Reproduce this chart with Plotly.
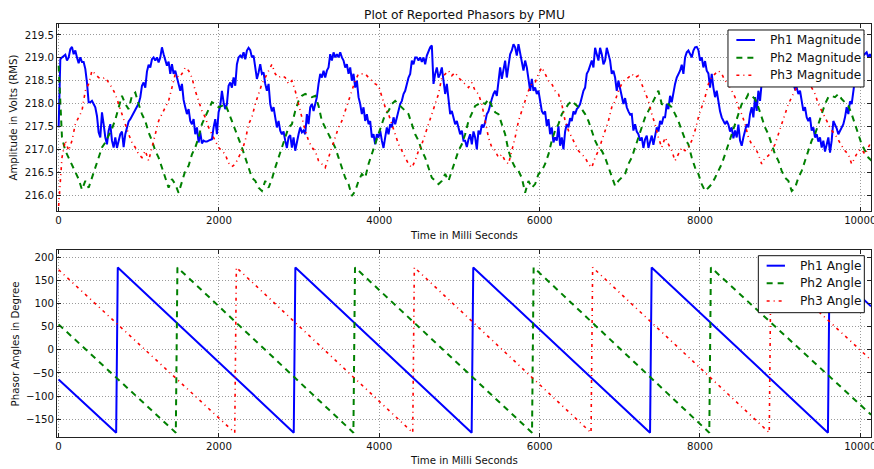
import plotly.graph_objects as go

# ---------------- data ----------------
MAG_STEP_MS = 20.78      # sampling step of the Ph1 magnitude readings
PH23_STEP_MS = 41.56     # sampling step of the Ph2 / Ph3 magnitude readings
T_START_MS = 0.6

ph1_magnitude = [
    217.48, 218.97, 219.01, 219.05, 219.07, 218.94, 219.01, 219.19, 219.24, 219.08,
    219.16, 219.01, 218.88, 219.01, 218.91, 218.91, 218.76, 218.46, 218.03, 218.03,
    218.06, 217.99, 217.92, 217.73, 217.37, 217.26, 217.81, 217.55, 217.26, 217.11,
    217.41, 217.55, 217.19, 217.04, 217.26, 217.03, 217.19, 217.33, 217.39, 217.05,
    217.33, 217.48, 217.61, 217.66, 217.73, 217.78, 217.88, 217.95, 218.00, 218.14,
    218.39, 218.46, 218.35, 218.70, 218.85, 218.79, 218.97, 219.01, 218.94, 219.01,
    218.90, 219.01, 219.23, 219.08, 218.94, 218.83, 218.92, 218.65, 218.86, 218.65,
    218.72, 218.57, 218.43, 218.28, 218.43, 218.08, 217.92, 217.77, 217.88, 217.62,
    217.55, 217.66, 217.33, 217.48, 217.15, 217.37, 217.13, 217.19, 217.17, 217.17,
    217.19, 217.20, 217.22, 217.48, 217.66, 217.33, 217.81, 217.95, 218.28, 218.03,
    217.88, 217.99, 218.39, 218.46, 218.35, 218.57, 218.39, 218.86, 219.01, 219.05,
    219.01, 219.12, 218.97, 219.16, 219.22, 219.17, 219.01, 219.05, 218.83, 218.54,
    218.68,
    218.86, 218.65, 218.68, 218.43, 218.28, 218.43, 217.99, 217.83, 217.92, 217.70,
    217.48, 217.62, 217.41, 217.33, 217.39, 217.19, 217.03, 217.26, 217.31, 217.04,
    217.26, 216.97, 217.19, 217.33, 217.48, 217.37, 217.41, 217.33, 217.77, 217.55,
    217.92, 217.99, 217.84, 217.99, 218.14, 218.43, 218.65, 218.57, 218.72, 218.57,
    218.72, 218.79, 219.08, 218.94, 219.12, 219.01, 219.08, 219.01, 219.12, 219.01,
    218.94, 218.79, 218.86, 218.65, 218.79, 218.50, 218.65, 218.35, 218.50, 218.14,
    217.99, 217.77, 217.92, 217.62, 217.77, 217.55, 217.62, 217.26, 217.33, 217.11,
    217.33, 217.26, 217.41, 217.19, 217.03, 217.26, 217.48, 217.33, 217.55, 217.48,
    217.70, 217.55, 217.70, 217.84, 217.99, 218.06, 218.21, 218.28, 218.43, 218.57,
    218.65, 218.94, 218.86, 219.01, 219.01, 218.94, 219.01, 218.91, 219.01, 218.86,
    219.05, 219.16, 219.23, 219.27, 218.43, 218.65, 218.79, 218.57, 218.65, 218.79,
    218.50, 218.21, 218.43, 218.14, 217.77, 217.84, 217.70, 217.55, 217.62, 217.48,
    217.33, 217.41, 217.19,
    217.19, 217.05, 217.22, 217.33, 217.11, 217.39, 217.26, 217.00, 217.41, 217.33,
    217.54, 217.48, 217.59, 217.77, 217.83, 217.99, 218.10, 218.21, 218.28, 218.17,
    218.50, 218.79, 218.54, 218.79, 218.94, 218.57, 218.79, 219.08, 219.16, 219.30,
    219.23, 219.05, 219.30, 219.08, 218.86, 218.72, 218.94, 218.79, 218.54, 218.28,
    218.54, 218.28, 218.35, 218.21, 218.28, 218.06, 217.84, 217.77, 217.83, 217.51,
    217.66, 217.33, 217.48, 217.15, 217.26, 217.19, 217.51, 217.08, 217.26, 217.00,
    217.39, 217.55, 217.48, 217.68, 217.62, 217.83, 217.77, 217.88, 217.92, 217.99,
    218.14, 218.28, 218.35, 218.65, 218.72, 218.86, 218.94, 218.79, 219.22, 219.08,
    218.94, 219.22, 219.08, 218.86, 218.94, 219.22, 219.08, 218.94, 218.65, 218.72,
    218.57, 218.28, 218.50, 218.35, 218.21, 217.99, 218.12, 217.92, 217.83, 217.76,
    217.77, 217.41, 217.55, 217.39, 217.33, 217.19, 217.26, 217.03, 217.22, 217.30,
    217.03, 217.19, 217.30, 217.10, 217.33, 217.48, 217.39, 217.62, 217.55, 217.70,
    217.70, 217.99, 217.88, 218.17, 218.03, 218.28, 218.43, 218.57, 218.65, 218.72,
    218.85, 218.65, 219.01, 219.12, 219.16, 219.07, 219.01, 219.16, 219.23, 219.24,
    219.17, 218.94, 219.01, 218.79, 218.93, 218.72, 218.66, 218.35, 218.65, 218.35,
    218.14, 218.28, 217.99, 217.83, 217.70, 217.62, 217.55, 217.62, 217.54, 217.39,
    217.48, 217.24, 217.41, 217.26, 217.54, 217.19, 217.08, 217.26, 217.41, 217.55,
    217.48, 217.77, 217.92, 217.70, 218.14, 217.84, 218.28, 218.06, 218.46, 218.57,
    218.72, 218.79, 218.94, 219.01, 219.05, 219.12, 219.16, 219.08, 219.19, 219.12,
    219.01, 219.05, 218.86, 218.79, 218.65, 218.68, 218.50, 218.43, 218.32, 218.35,
    218.21, 218.28, 218.05, 217.84, 217.92, 217.70, 217.62, 217.70, 217.41, 217.48,
    217.26, 217.33, 217.17, 217.26, 217.04, 217.19, 216.95, 217.15, 217.26, 216.93,
    217.19, 217.62, 217.55, 217.46, 217.33, 217.41, 217.48, 217.55, 217.70, 217.92,
    217.77, 218.05, 217.99, 218.28, 218.54, 218.72, 218.83, 218.94, 219.01, 219.05,
    219.08, 219.12, 219.01, 219.08, 219.01,
]

ph2_magnitude = [
    218.83, 217.26, 216.97, 216.82, 216.68, 216.53, 216.35, 216.12, 216.31, 216.16,
    216.38, 216.60, 216.82, 217.04, 217.15, 217.30, 217.45, 217.65, 217.90, 218.17,
    217.99, 217.88, 218.17, 218.24, 217.99, 217.77, 217.62, 217.37, 217.19, 216.97,
    216.82, 216.60, 216.38, 216.16, 216.35, 216.24, 216.05, 216.31, 216.53, 216.64,
    216.89, 217.04, 217.26, 217.55, 217.70, 217.88, 218.03, 217.99, 217.92, 217.95,
    217.99, 217.81, 217.62, 217.41, 217.26, 217.04, 216.82, 216.60, 216.38, 216.31,
    216.16,
    216.09, 216.31, 216.16, 216.35, 216.60, 216.82, 217.04, 217.26, 217.48, 217.55,
    217.84, 218.06, 218.17, 218.21, 218.17, 218.14, 218.17, 217.95, 217.62, 217.48,
    217.33, 217.19, 217.04, 216.82, 216.60, 216.38, 216.24, 215.98, 216.09, 216.31,
    216.46, 216.38, 216.68, 216.89, 217.11, 217.33, 217.55, 217.77, 217.84, 217.99,
    218.06, 217.99, 217.92, 217.84, 217.77, 217.55, 217.33, 217.19, 216.97, 216.82,
    216.60, 216.38, 216.31, 216.24, 216.31, 216.46, 216.31, 216.53, 216.75, 216.97,
    217.11, 217.33,
    217.62, 217.77, 217.95, 217.99, 218.03, 217.99, 218.10, 217.95, 217.81, 217.77,
    217.55, 217.33, 216.97, 216.75, 216.60, 216.53, 216.38, 216.05, 216.31, 216.16,
    216.24, 216.46, 216.53, 216.68, 216.89, 217.19, 217.41, 217.55, 217.77, 217.88,
    217.99, 218.06, 217.99, 217.92, 217.88, 217.77, 217.62, 217.41, 217.19, 217.04,
    216.97, 216.82, 216.60, 216.38, 216.20, 216.31, 216.38, 216.46, 216.68, 216.82,
    217.04, 217.26, 217.48, 217.70, 217.84, 217.99, 218.14, 218.28, 217.99,
    217.95, 217.99, 217.92, 217.77, 217.62, 217.41, 217.22, 217.11, 216.82, 216.60,
    216.46, 216.24, 216.09, 216.16, 216.24, 216.38, 216.53, 216.68, 216.89, 217.11,
    217.33, 217.55, 217.77, 217.99, 218.06, 218.21, 218.17, 218.10, 217.92, 217.70,
    217.48, 217.33, 217.11, 216.89, 216.75, 216.53, 216.38, 216.31, 216.09, 216.16,
    216.38, 216.53, 216.75, 216.97, 217.19, 217.33, 217.55, 217.77, 217.99, 218.14,
    218.17, 218.14, 218.21, 218.10, 218.03, 217.95, 217.77, 217.55, 217.33, 217.11,
    216.97, 216.82, 216.75,
]

ph3_magnitude = [
    215.76, 216.82, 217.19, 216.97, 217.19, 217.55, 217.70, 217.84, 218.28, 218.43,
    218.72, 218.65, 218.57, 218.54, 218.57, 218.46, 218.35, 218.21, 217.99, 217.73,
    217.55, 217.33, 217.15, 217.04, 216.89, 216.82, 216.97, 216.75, 217.04, 217.33,
    217.62, 217.77, 217.92, 218.06, 218.35, 218.65, 218.57, 218.65, 218.79, 218.72,
    218.57, 218.28, 218.06, 217.84, 217.70, 217.48, 217.33, 217.19, 217.04, 216.97,
    216.89, 216.70, 216.62, 216.68, 216.82, 216.97, 217.19, 217.55, 217.70, 217.99,
    218.21,
    218.43, 218.57, 218.72, 218.86, 218.65, 218.57, 218.61, 218.57, 218.43, 218.50,
    218.28, 217.99, 217.70, 217.41, 217.19, 217.04, 216.97, 216.75, 216.68, 216.60,
    216.82, 217.04, 217.26, 217.48, 217.62, 217.84, 218.06, 218.28, 218.50, 218.65,
    218.65, 218.65, 218.57, 218.50, 218.43, 218.39, 218.14, 217.92, 217.77, 217.55,
    217.33, 217.11, 216.97, 216.82, 216.68, 216.60, 216.75, 216.97, 217.11, 217.33,
    217.55, 217.77, 217.99, 218.21, 218.57, 218.65, 218.72, 218.61, 218.68, 218.57,
    218.50, 218.43,
    218.35, 218.46, 218.28, 218.21, 217.99, 217.62, 217.26, 217.04, 216.97, 216.82,
    216.89, 216.75, 216.68, 216.97, 217.26, 217.62, 217.84, 218.06, 218.28, 218.43,
    218.46, 218.65, 218.79, 218.65, 218.50, 218.43, 218.28, 218.21, 217.99, 217.62,
    217.41, 217.26, 217.11, 216.97, 216.89, 216.82, 216.68, 216.60, 216.82, 216.97,
    217.19, 217.41, 217.62, 217.92, 218.06, 218.28, 218.43, 218.54, 218.57, 218.65,
    218.57, 218.61, 218.43, 218.28, 218.06, 217.77, 217.55, 217.26, 217.04,
    217.26, 217.11, 216.97, 216.75, 216.89, 217.04, 216.97, 217.04, 217.19, 217.41,
    217.70, 217.92, 218.14, 218.43, 218.57, 218.65, 218.72, 218.65, 218.50, 218.43,
    218.28, 218.14, 217.92, 217.77, 217.55, 217.26, 217.11, 217.04, 216.89, 216.68,
    216.82, 216.86, 216.97, 217.11, 217.33, 217.55, 217.77, 217.99, 218.14, 218.28,
    218.43, 218.46, 218.50, 218.45, 218.35, 218.21, 217.99, 217.84, 217.70, 217.55,
    217.41, 217.33, 217.19, 217.08, 216.97, 216.89, 216.68, 216.82, 216.97, 217.00,
    216.89, 217.04, 217.19,
]

# phase angle breakpoints (degrees wrap from -180 to +180)
ph1_angle_t = [0, 718, 738, 2933, 2953, 5152, 5172, 7377, 7397, 9596, 9616, 10133]
ph1_angle = [-64, -179, 178, -179, 178, -179, 178, -179, 178, -179, 178, 94]
ph2_angle_t = [0, 1462, 1482, 3677, 3697, 5905, 5925, 8116, 8136, 10133]
ph2_angle = [55, -179, 178, -179, 178, -179, 178, -179, 178, -140]
ph3_angle_t = [0, 2197, 2217, 4417, 4437, 6641, 6661, 8864, 8884, 10133]
ph3_angle = [173, -179, 178, -179, 178, -179, 178, -179, 178, -22]

x_ticks = [0, 2000, 4000, 6000, 8000, 10000]
x_tick_labels = ["0", "2000", "4000", "6000", "8000", "10000"]
mag_ticks = [216.0, 216.5, 217.0, 217.5, 218.0, 218.5, 219.0, 219.5]
ang_ticks = [-150, -100, -50, 0, 50, 100, 150, 200]

mag_names = ["Ph1 Magnitude", "Ph2 Magnitude", "Ph3 Magnitude"]
ang_names = ["Ph1 Angle", "Ph2 Angle", "Ph3 Angle"]

t_ph1 = [T_START_MS + i * MAG_STEP_MS for i in range(len(ph1_magnitude))]
t_ph2 = [T_START_MS + i * PH23_STEP_MS for i in range(len(ph2_magnitude))]
t_ph3 = [T_START_MS + i * PH23_STEP_MS for i in range(len(ph3_magnitude))]

# ---------------- styling ----------------
FONT = "DejaVu Sans"
STYLES = [
    dict(color="#0000ff", width=2),
    dict(color="#008000", width=2, dash="6px,5px"),
    dict(color="#ff0000", width=1.6, dash="3px,4px,1px,4px"),
]

fig = go.Figure()
for name, t, v, st in zip(mag_names, [t_ph1, t_ph2, t_ph3],
                          [ph1_magnitude, ph2_magnitude, ph3_magnitude], STYLES):
    fig.add_trace(go.Scatter(x=t, y=v, mode="lines", name=name, line=st, showlegend=False))
for name, t, v, st in zip(ang_names, [ph1_angle_t, ph2_angle_t, ph3_angle_t],
                          [ph1_angle, ph2_angle, ph3_angle], STYLES):
    fig.add_trace(go.Scatter(x=t, y=v, mode="lines", name=name, line=st, showlegend=False,
                             xaxis="x2", yaxis="y2"))

axis_common = dict(
    automargin=False,
    showline=True, linecolor="#222222", linewidth=1, mirror="ticks",
    ticks="inside", ticklen=4, tickcolor="#222222",
    showgrid=True, gridcolor="#9a9a9a", gridwidth=0.8, griddash="1px,2px",
    zeroline=False, tickfont=dict(family=FONT, size=10.2, color="#111111"),
)

# legend boxes drawn in paper space (box, sample line, label)
def legend_items(box, rows, line_x, text_x, names):
    shapes = [dict(type="rect", xref="paper", yref="paper", x0=box[0], x1=box[1],
                   y0=box[2], y1=box[3], line=dict(color="#111111", width=1),
                   fillcolor="white", layer="above")]
    anns = []
    for y, name, st in zip(rows, names, STYLES):
        shapes.append(dict(type="line", xref="paper", yref="paper", x0=line_x[0], x1=line_x[1],
                           y0=y, y1=y, line=st, layer="above"))
        anns.append(dict(text=name, x=text_x, y=y, xref="paper", yref="paper", xanchor="left",
                         yanchor="middle", showarrow=False,
                         font=dict(family=FONT, size=12.2, color="#111111")))
    return shapes, anns

s1, a1 = legend_items((0.8243, 0.9914, 0.8475, 0.9855), (0.9613, 0.9184, 0.8758),
                      (0.8346, 0.8575), 0.8738, mag_names)
s2, a2 = legend_items((0.8616, 0.9918, 0.3010, 0.4390), (0.4148, 0.3722, 0.3293),
                      (0.8718, 0.8943), 0.9107, ang_names)

annotations = [
    dict(text="Plot of Reported Phasors by PMU", x=0.5, y=1.0218, xref="paper", yref="paper",
         xanchor="center", yanchor="middle", showarrow=False, font=dict(family=FONT, size=12.3)),
    dict(text="Time in Milli Seconds", x=0.5, y=0.489, xref="paper", yref="paper",
         xanchor="center", yanchor="middle", showarrow=False, font=dict(family=FONT, size=10.2)),
    dict(text="Time in Milli Seconds", x=0.5, y=-0.0557, xref="paper", yref="paper",
         xanchor="center", yanchor="middle", showarrow=False, font=dict(family=FONT, size=10.2)),
    dict(text="Amplitude in Volts (RMS)", x=-0.0528, y=0.7735, xref="paper", yref="paper",
         xanchor="center", yanchor="middle", textangle=-90, showarrow=False,
         font=dict(family=FONT, size=10.2)),
    dict(text="Phasor Angles in Degree", x=-0.0516, y=0.2265, xref="paper", yref="paper",
         xanchor="center", yanchor="middle", textangle=-90, showarrow=False,
         font=dict(family=FONT, size=10.2)),
] + a1 + a2

fig.update_layout(
    width=874, height=469,
    margin=dict(l=57, r=3, t=24, b=32, autoexpand=False),
    paper_bgcolor="white", plot_bgcolor="white",
    font=dict(family=FONT, color="#111111"),
    showlegend=False,
    xaxis=dict(domain=[0, 1], anchor="y", range=[-20, 10133], tickvals=x_ticks,
               ticktext=x_tick_labels, ticklabeloverflow="allow", **axis_common),
    yaxis=dict(domain=[0.547, 1], anchor="x", range=[215.65, 219.74], tickvals=mag_ticks,
               tickformat=".1f", **axis_common),
    xaxis2=dict(domain=[0, 1], anchor="y2", range=[-20, 10133], tickvals=x_ticks,
                ticktext=x_tick_labels, ticklabeloverflow="allow", **axis_common),
    yaxis2=dict(domain=[0, 0.453], anchor="x2", range=[-188.3, 215.8], tickvals=ang_ticks,
                **axis_common),
    shapes=s1 + s2,
    annotations=annotations,
)

fig.write_html("out.html", config={"displayModeBar": False},
               post_script="document.body.style.margin='0';document.body.style.padding='0';")
